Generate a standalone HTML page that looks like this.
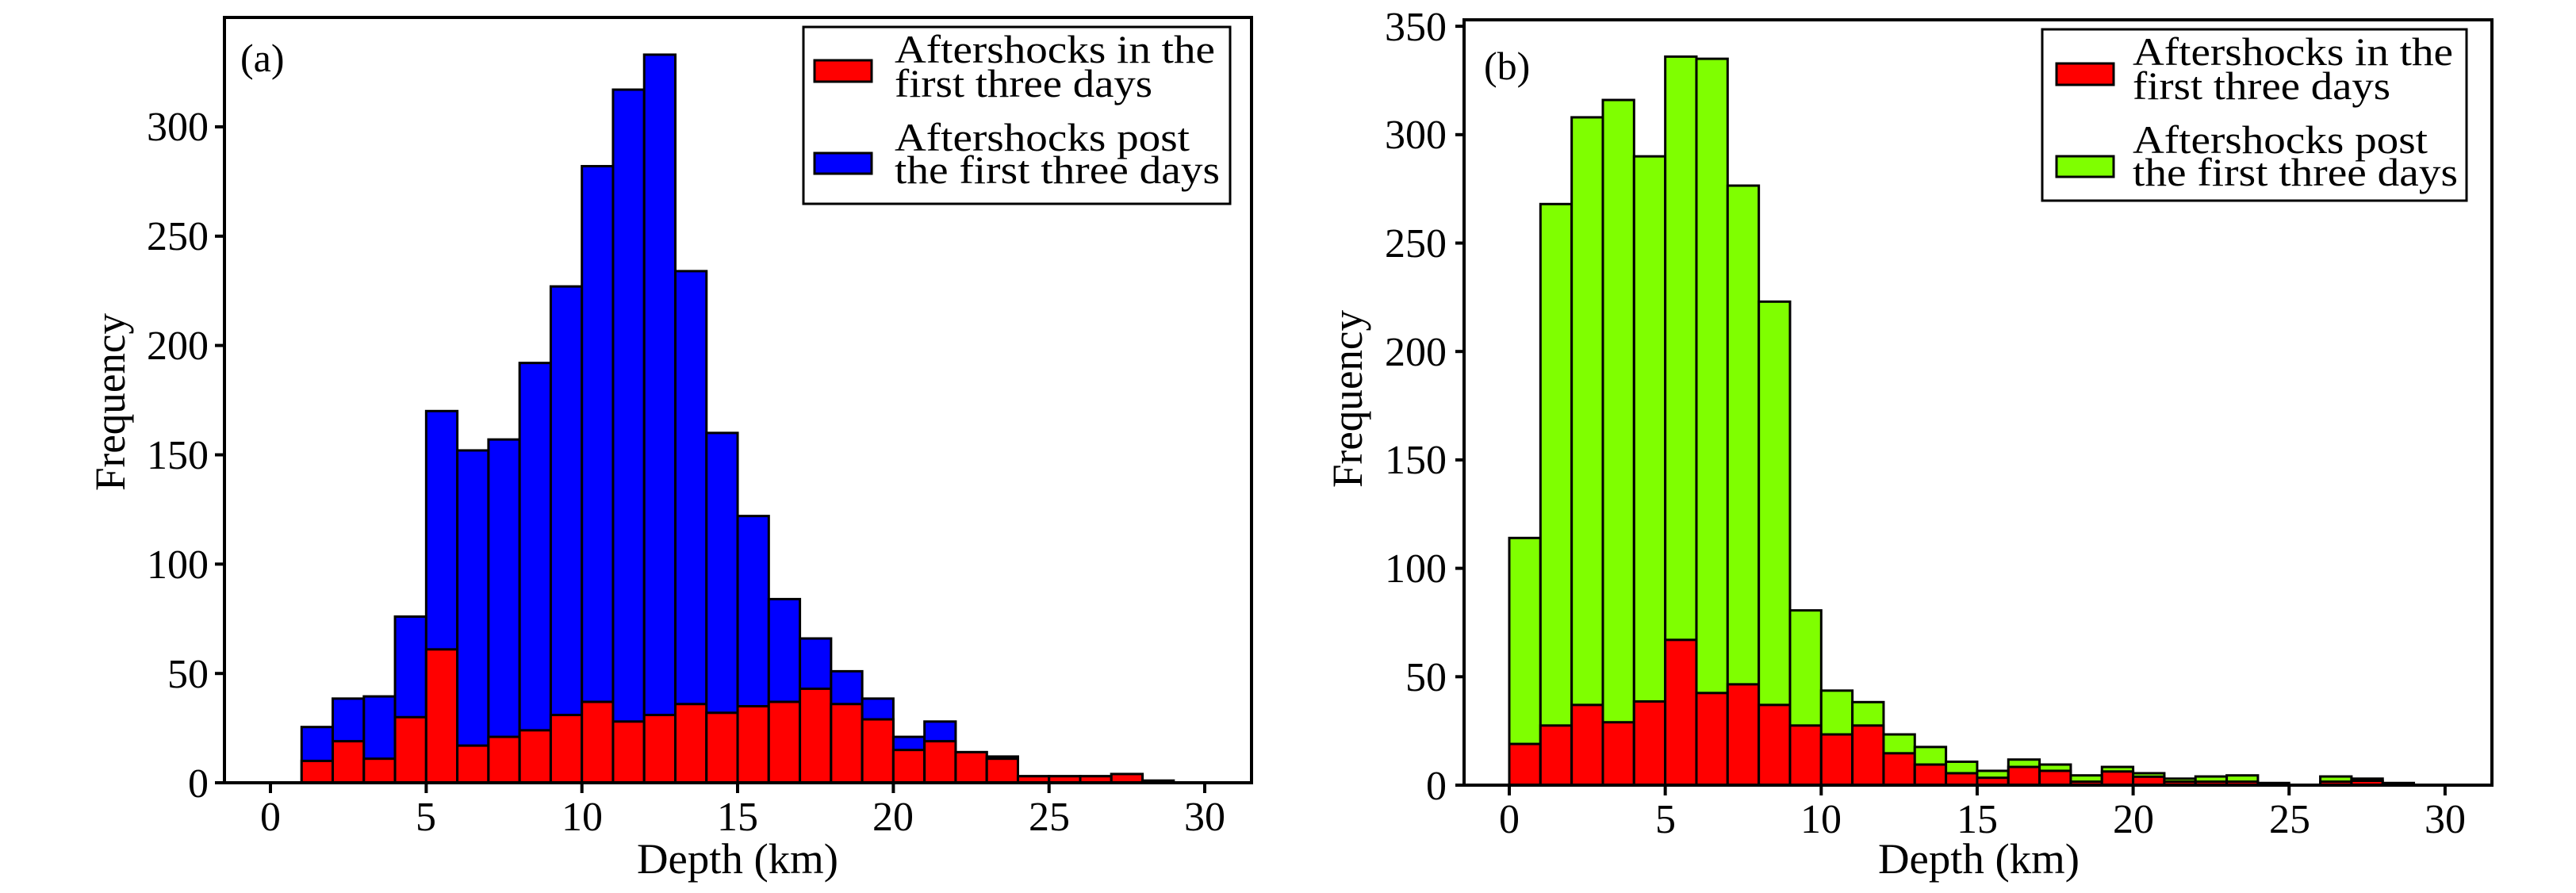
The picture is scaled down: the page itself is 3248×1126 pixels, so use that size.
<!DOCTYPE html>
<html><head><meta charset="utf-8"><style>
html,body{margin:0;padding:0;background:#fff;}
svg{display:block;}
text{font-family:"Liberation Serif",serif;fill:#000;}
</style></head><body>
<svg id="s" width="3248" height="1126" viewBox="0 0 3248 1126" xmlns="http://www.w3.org/2000/svg">
<rect width="3248" height="1126" fill="#fff"/>
<g id="bars"></g>
<!-- Panel a axes -->
<rect x="283" y="22" width="1295" height="965" fill="none" stroke="#000" stroke-width="4"/>
<g stroke="#000" stroke-width="4">
<line x1="271" y1="987" x2="283" y2="987"/><line x1="271" y1="849.2" x2="283" y2="849.2"/><line x1="271" y1="711.3" x2="283" y2="711.3"/><line x1="271" y1="573.5" x2="283" y2="573.5"/><line x1="271" y1="435.6" x2="283" y2="435.6"/><line x1="271" y1="297.8" x2="283" y2="297.8"/><line x1="271" y1="159.9" x2="283" y2="159.9"/>
<line x1="341" y1="987" x2="341" y2="1000"/><line x1="537.4" y1="987" x2="537.4" y2="1000"/><line x1="733.7" y1="987" x2="733.7" y2="1000"/><line x1="930" y1="987" x2="930" y2="1000"/><line x1="1126.4" y1="987" x2="1126.4" y2="1000"/><line x1="1322.7" y1="987" x2="1322.7" y2="1000"/><line x1="1519" y1="987" x2="1519" y2="1000"/>
</g>
<g font-size="52" text-anchor="end">
<text x="263" y="1005">0</text><text x="263" y="867">50</text><text x="263" y="729">100</text><text x="263" y="591">150</text><text x="263" y="453">200</text><text x="263" y="315">250</text><text x="263" y="177">300</text>
</g>
<g font-size="52" text-anchor="middle">
<text x="341" y="1047">0</text><text x="537" y="1047">5</text><text x="734" y="1047">10</text><text x="930" y="1047">15</text><text x="1126" y="1047">20</text><text x="1323" y="1047">25</text><text x="1519" y="1047">30</text>
</g>
<text x="930" y="1101" font-size="54" text-anchor="middle" textLength="254" lengthAdjust="spacingAndGlyphs">Depth (km)</text>
<text transform="translate(157,507) rotate(-90)" font-size="54" text-anchor="middle" textLength="224" lengthAdjust="spacingAndGlyphs">Frequency</text>
<text x="303" y="90" font-size="50">(a)</text>
<rect x="1013" y="34" width="538" height="223" fill="#fff" stroke="#000" stroke-width="3"/>
<rect x="1027" y="76" width="72" height="27" fill="#ff0000" stroke="#000" stroke-width="3"/>
<rect x="1027" y="193" width="72" height="26" fill="#0000ff" stroke="#000" stroke-width="3"/>
<g font-size="50">
<text x="1128" y="79" textLength="404" lengthAdjust="spacingAndGlyphs">Aftershocks in the</text>
<text x="1128" y="122" textLength="325" lengthAdjust="spacingAndGlyphs">first three days</text>
<text x="1128" y="190" textLength="372" lengthAdjust="spacingAndGlyphs">Aftershocks post</text>
<text x="1128" y="231" textLength="410" lengthAdjust="spacingAndGlyphs">the first three days</text>
</g>
<!-- Panel b axes -->
<rect x="1846" y="25" width="1296" height="965" fill="none" stroke="#000" stroke-width="4"/>
<g stroke="#000" stroke-width="4" id="tb"></g>
<g font-size="52" text-anchor="end">
<text x="1824" y="1008">0</text><text x="1824" y="871">50</text><text x="1824" y="734">100</text><text x="1824" y="597">150</text><text x="1824" y="461">200</text><text x="1824" y="324">250</text><text x="1824" y="187">300</text><text x="1824" y="51">350</text>
</g>
<g font-size="52" text-anchor="middle">
<text x="1903" y="1050">0</text><text x="2100" y="1050">5</text><text x="2296" y="1050">10</text><text x="2493" y="1050">15</text><text x="2690" y="1050">20</text><text x="2887" y="1050">25</text><text x="3083" y="1050">30</text>
</g>
<text x="2495" y="1101" font-size="54" text-anchor="middle" textLength="254" lengthAdjust="spacingAndGlyphs">Depth (km)</text>
<text transform="translate(1717,503) rotate(-90)" font-size="54" text-anchor="middle" textLength="224" lengthAdjust="spacingAndGlyphs">Frequency</text>
<text x="1871" y="100" font-size="50">(b)</text>
<rect x="2575" y="37" width="535" height="216" fill="#fff" stroke="#000" stroke-width="3"/>
<rect x="2593" y="80" width="72" height="27" fill="#ff0000" stroke="#000" stroke-width="3"/>
<rect x="2593" y="197" width="72" height="26" fill="#7fff00" stroke="#000" stroke-width="3"/>
<g font-size="50">
<text x="2689" y="82" textLength="404" lengthAdjust="spacingAndGlyphs">Aftershocks in the</text>
<text x="2689" y="125" textLength="325" lengthAdjust="spacingAndGlyphs">first three days</text>
<text x="2689" y="193" textLength="372" lengthAdjust="spacingAndGlyphs">Aftershocks post</text>
<text x="2689" y="234" textLength="410" lengthAdjust="spacingAndGlyphs">the first three days</text>
</g>
</svg>
<script>
(function(){
var NS="http://www.w3.org/2000/svg",g=document.getElementById("bars");
function r(x,y,w,h,f){var e=document.createElementNS(NS,"rect");e.setAttribute("x",x);e.setAttribute("y",y);e.setAttribute("width",w);e.setAttribute("height",Math.max(h,0));e.setAttribute("fill",f);e.setAttribute("stroke","#000");e.setAttribute("stroke-width","3");g.appendChild(e);}
function panel(x0,sx,y0,sy,tot,red,col){
 for(var i=0;i<tot.length;i++){
  var t=tot[i],rd=red[i];if(t<=0)continue;
  var xl=x0+sx*i;
  r(xl,y0-sy*t,sx,sy*t,col);
  if(rd>0)r(xl,y0-sy*rd,sx,sy*rd,"#ff0000");
 }
}
var ta=[0,25.5,38.5,39.5,76,170,152,157,192,227,282,317,333,234,160,122,84,66,51,38.5,21,28,14,12,3,3,3,4,1];
var ra=[0,10,19,11,30,61,17,21,24,31,37,28,31,36,32,35,37,43,36,29,15,19,14,11,3,3,3,4,0];
panel(341,39.27,987,2.757,ta,ra,"#0000ff");
var tb=[114,268,308,316,290,336,335,276.5,223,80.6,43.6,38.3,23.4,17.6,10.8,6.6,11.8,9.5,4.5,8.4,5.5,3,4,4.5,1,0,4,3,1];
var rb=[19,27.5,37,29,38.6,67,42.5,46.5,37,27.5,23.4,27.5,14.7,9.5,5.5,3.4,8.4,6.6,1.6,6.3,3.9,1.6,1.6,1.6,0,0,1.6,2,0];
panel(1903,39.33,990,2.734,tb,rb,"#7fff00");
var t=document.getElementById("tb"),s="";
for(var k=0;k<=7;k++){var y=990-2.734*50*k;s+='<line x1="1835" y1="'+y+'" x2="1846" y2="'+y+'"/>';}
for(var k=0;k<=6;k++){var x=1903+39.33*5*k;s+='<line x1="'+x+'" y1="990" x2="'+x+'" y2="1003"/>';}
t.innerHTML=s;
})();
</script>
</body></html>
